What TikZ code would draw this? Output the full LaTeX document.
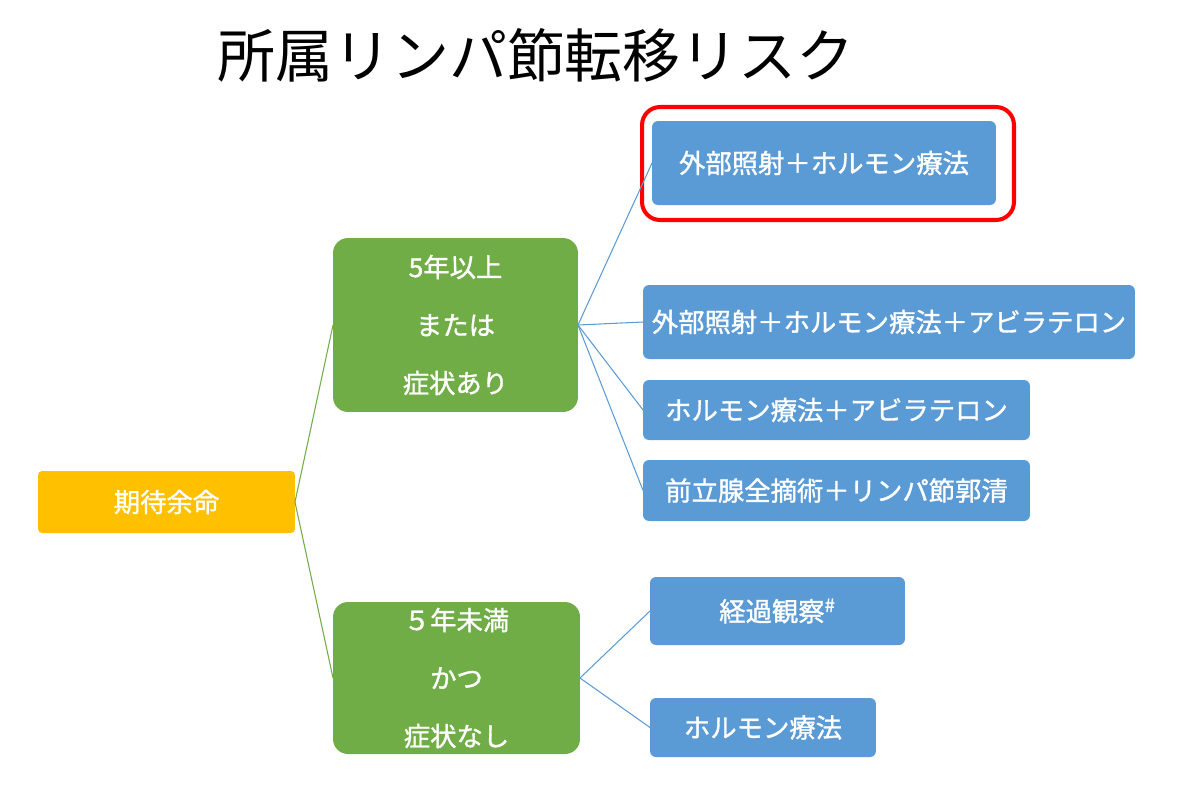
\documentclass[tikz,border=0pt]{standalone}
\usepackage{fontspec}
\setmainfont{Noto Sans CJK JP}
\newfontfamily\boxfont{Noto Sans CJK JP}[FakeBold=1.2]
\definecolor{lifeyellow}{HTML}{FFC000}
\definecolor{agegreen}{HTML}{70AD47}
\definecolor{therapyblue}{HTML}{5B9BD5}
\definecolor{alertred}{HTML}{FF0000}
\begin{document}
\begin{tikzpicture}[x=0.02cm, y=-0.02cm]
\tikzset{ inner sep=0pt, outer sep=0pt,
  box/.style={rounded corners=0.12cm, text=white, font=\boxfont\fontsize{15}{17}\selectfont},
  yellowbox/.style={box, fill=lifeyellow, rounded corners=0.08cm},
  greenbox/.style={box, fill=agegreen, rounded corners=0.3cm, align=center, font=\boxfont\fontsize{15}{33}\selectfont},
  bluebox/.style={box, fill=therapyblue},
  greenline/.style={agegreen, line width=0.6pt},
  blueline/.style={therapyblue, line width=0.6pt},
}

\useasboundingbox (0,0) rectangle (1189,792);
%\draw [lightgray, dashed] (0,0) grid [step=50] (1189,792);

\node (title) at (536,55) {\fontsize{33}{36}\selectfont 所属リンパ節転移リスク};

\node [yellowbox, minimum width=5.14cm, minimum height=1.24cm] (life) at (166.5,502) {期待余命};

\node [greenbox, minimum width=4.90cm, minimum height=3.48cm] (g1) at (455.5,325) {5年以上\\または\\症状あり};
\node [greenbox, minimum width=4.94cm, minimum height=3.04cm] (g2) at (456.5,678) {５年未満\\かつ\\症状なし};

\node [bluebox, minimum width=6.88cm, minimum height=1.68cm] (b1) at (824,163)   {外部照射＋ホルモン療法};
\node [bluebox, minimum width=9.84cm, minimum height=1.48cm] (b2) at (889,322)   {外部照射＋ホルモン療法＋アビラテロン};
\node [bluebox, minimum width=7.74cm, minimum height=1.20cm] (b3) at (836.5,410) {ホルモン療法＋アビラテロン};
\node [bluebox, minimum width=7.74cm, minimum height=1.22cm] (b4) at (836.5,490.5) {前立腺全摘術＋リンパ節郭清};
\node [bluebox, minimum width=5.10cm, minimum height=1.36cm] (b5) at (777.5,611) {経過観察\textsuperscript{\#}};
\node [bluebox, minimum width=4.52cm, minimum height=1.18cm] (b6) at (763,727.5) {ホルモン療法};

% highlight
\node [draw=alertred, line width=2.3pt, rounded corners=0.36cm, minimum width=7.44cm, minimum height=2.26cm] (hl) at (828,163.5) {};

\draw [greenline] (life.east) -- (g1.west);
\draw [greenline] (life.east) -- (g2.west);

\draw [blueline] (g1.east) -- (b1.west);
\draw [blueline] (g1.east) -- (b2.west);
\draw [blueline] (g1.east) -- (b3.west);
\draw [blueline] (g1.east) -- (b4.west);

\draw [blueline] (g2.east) -- (b5.west);
\draw [blueline] (g2.east) -- (b6.west);

\end{tikzpicture}
\end{document}
